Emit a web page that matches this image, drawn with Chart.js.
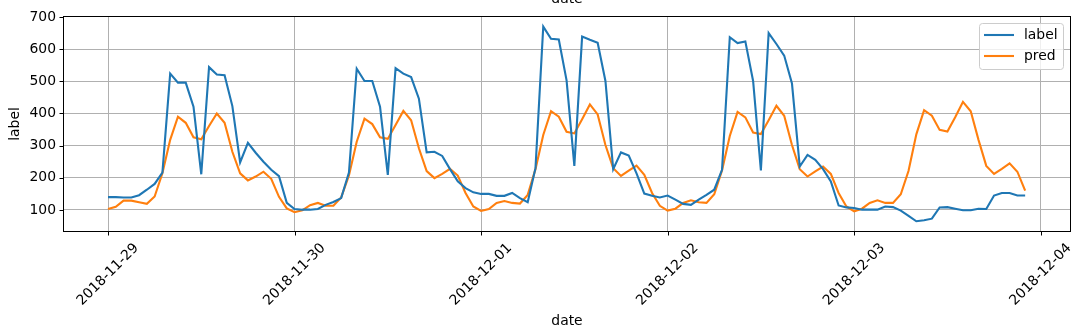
<!DOCTYPE html>
<html>
<head>
<meta charset="utf-8">
<script src="https://cdn.jsdelivr.net/npm/chart.js@4/dist/chart.umd.min.js"></script>
<style>
  html, body { margin:0; padding:0; background:#fff; }
  #wrap { width:1083px; height:332px; position:relative; }
</style>
</head>
<body>
<div id="wrap"><canvas id="c"></canvas></div>
<script>
// hourly series starting 2018-11-29 00:00
const dayLabels = ['2018-11-29','2018-11-30','2018-12-01','2018-12-02','2018-12-03','2018-12-04'];
const yTicks = [100,200,300,400,500,600,700];
const seriesNames = ['label','pred'];

const labelVals = [
  140,140,139,139,146,163,181,216,524,496,496,421,211,544,521,519,423,248,309,278,250,225,205,
  122,103,101,101,103,116,125,137,216,539,501,501,421,209,541,524,513,446,279,281,268,227,189,168,155,150,
  150,144,144,153,137,124,230,670,632,630,503,237,639,629,620,501,227,279,269,214,151,144,139,145,
  132,119,116,132,147,163,225,637,619,624,501,223,650,616,580,493,235,271,256,227,189,114,108,106,
  101,101,101,111,109,98,82,65,68,73,108,109,104,99,99,104,103,145,153,153,145,145
];
const predVals = [
  103,110,129,129,124,119,142,214,318,390,371,326,320,361,400,371,281,214,192,204,219,197,141,
  105,93,99,115,122,113,113,139,207,312,384,367,326,321,364,408,379,292,221,199,212,228,207,153,111,97,
  103,122,128,122,120,147,227,333,407,390,343,338,382,428,397,302,230,206,222,238,209,153,113,98,
  104,122,130,124,122,149,223,330,405,388,341,336,379,424,393,302,227,204,220,235,212,153,111,96,
  104,122,130,122,122,149,222,335,410,393,349,344,388,436,407,318,237,212,228,245,219,160
];
const hours = labelVals.map((_, i) => i);

const FONT = '"DejaVu Sans", sans-serif';
const FS = 13.9;
const colors = ['#1f77b4', '#ff7f0e'];

const mplPlugin = {
  id: 'mpl',
  afterDraw(chart) {
    const ctx = chart.ctx, a = chart.chartArea;
    const xs = chart.scales.x, ys = chart.scales.y;
    ctx.save();
    // frame
    ctx.strokeStyle = '#000'; ctx.lineWidth = 1;
    ctx.strokeRect(Math.round(a.left)+0.5, Math.round(a.top)+0.5, Math.round(a.right-a.left)-1, Math.round(a.bottom-a.top)-1);
    // tick marks
    ctx.beginPath();
    xs.ticks.forEach(t => {
      const x = Math.round(xs.getPixelForValue(t.value)) + 0.5;
      ctx.moveTo(x, a.bottom); ctx.lineTo(x, a.bottom + 3.5);
    });
    ys.ticks.forEach(t => {
      const y = Math.round(ys.getPixelForValue(t.value)) + 0.5;
      ctx.moveTo(a.left, y); ctx.lineTo(a.left - 3.5, y);
    });
    ctx.stroke();
    // x tick labels rotated 45, centred under tick
    ctx.fillStyle = '#000';
    ctx.font = FS + 'px ' + FONT;
    ctx.textAlign = 'center'; ctx.textBaseline = 'middle';
    xs.ticks.forEach((t, i) => {
      const txt = dayLabels[i];
      const w = ctx.measureText(txt).width, h = 16;
      const bb = (w + h) * Math.SQRT1_2;
      ctx.save();
      ctx.translate(xs.getPixelForValue(t.value), a.bottom + 8.4 + bb / 2);
      ctx.rotate(-Math.PI / 4);
      ctx.fillText(txt, 0, 0);
      ctx.restore();
    });
    // axis titles
    const cx = (a.left + a.right) / 2;
    ctx.textBaseline = 'alphabetic';
    ctx.fillText('date', cx, 325);
    ctx.fillText('date', cx, 3);
    ctx.save();
    ctx.translate(19, (a.top + a.bottom) / 2);
    ctx.rotate(-Math.PI / 2);
    ctx.fillText('label', 0, 0);
    ctx.restore();
    // legend
    const lx = 979.5, ly = 23.5, lw = 84, lh = 46;
    ctx.beginPath();
    ctx.roundRect(lx, ly, lw, lh, 3);
    ctx.fillStyle = 'rgba(255,255,255,0.8)'; ctx.fill();
    ctx.strokeStyle = '#cccccc'; ctx.lineWidth = 1; ctx.stroke();
    chart.data.datasets.forEach((ds, i) => {
      const yy = 35 + i * 21;
      ctx.beginPath();
      ctx.strokeStyle = ds.borderColor; ctx.lineWidth = 2.1;
      ctx.moveTo(984, yy); ctx.lineTo(1014, yy); ctx.stroke();
      ctx.fillStyle = '#000'; ctx.textAlign = 'left'; ctx.textBaseline = 'middle';
      ctx.fillText(ds.label, 1024, yy);
    });
    ctx.restore();
  }
};

new Chart(document.getElementById('c'), {
  type: 'line',
  data: {
    datasets: [labelVals, predVals].map((vals, k) => ({
      label: seriesNames[k],
      data: hours.map((h, i) => ({ x: h, y: vals[i] })),
      borderColor: colors[k],
      backgroundColor: colors[k],
      borderWidth: 2.1,
      pointRadius: 0,
      tension: 0
    }))
  },
  options: {
    responsive: true,
    maintainAspectRatio: false,
    animation: false,
    devicePixelRatio: 1,
    layout: { padding: { left: 0, right: 12, top: 16, bottom: 0 } },
    plugins: { legend: { display: false }, tooltip: { enabled: false } },
    scales: {
      x: {
        type: 'linear',
        min: -5.79, max: 123.9,
        afterBuildTicks: s => { s.ticks = dayLabels.map((_, i) => ({ value: i * 24 })); },
        afterFit: s => { s.height = 100; },
        ticks: { display: false },
        grid: { color: '#b0b0b0', lineWidth: 1, drawTicks: false },
        border: { display: false }
      },
      y: {
        min: 31.6, max: 703,
        afterBuildTicks: s => { s.ticks = yTicks.map(v => ({ value: v })); },
        afterFit: s => { s.width = 63; },
        ticks: { color: '#000', padding: 7, font: { family: FONT, size: FS } },
        grid: { color: '#b0b0b0', lineWidth: 1, drawTicks: false },
        border: { display: false }
      }
    }
  },
  plugins: [mplPlugin]
});
</script>
</body>
</html>
